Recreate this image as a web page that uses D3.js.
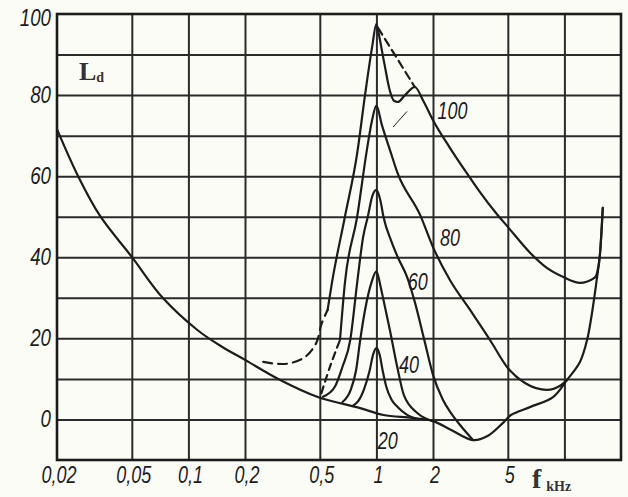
<!DOCTYPE html>
<html>
<head>
<meta charset="utf-8">
<script src="https://cdn.jsdelivr.net/npm/d3@7"></script>
<style>
  html, body { margin: 0; padding: 0; background: #fcfcf7; }
  svg { display: block; }
</style>
</head>
<body>
<svg id="chart" width="628" height="497"></svg>
<script>
// ---------- DATA (frequency in kHz, level in dB) ----------
const xGrid = [0.05, 0.1, 0.2, 0.5, 1, 2, 5, 10];
const xTicks = [0.02, 0.05, 0.1, 0.2, 0.5, 1, 2, 5];
const xTickLabels = ["0,02", "0,05", "0,1", "0,2", "0,5", "1", "2", "5"];
const yGrid = [0, 10, 20, 30, 40, 50, 60, 70, 80, 90];
const yTicks = [0, 20, 40, 60, 80, 100];
const yTickLabels = ["0", "20", "40", "60", "80", "100"];

// threshold in quiet
const quiet = [[0.02,71.6],[0.0259,60],[0.0339,50.2],[0.05,40.1],[0.073,30],[0.112,22],[0.15,18],[0.2,14.7],[0.306,9.8],[0.484,5.6],[0.82,2.8],[1.09,1.1],[1.55,0.4],[2.0,-0.4],[2.5,-2.6],[3.27,-5.1],[3.9,-4.1],[4.7,-0.9],[5.2,1.1],[6.6,3.1],[8.7,5.5],[10.3,9.7],[12.1,14.2],[13.2,19.6],[14.1,27],[14.9,34.9],[15.4,40],[16.0,52.2]];

// masking curves (noise level 100, 80, 60, 40, 20 dB)
const curve100Low = [[0.25,14.2],[0.30,13.7],[0.35,13.9],[0.42,15.5],[0.48,19],[0.51,23.5],[0.55,27]];
const curve100 = [[0.55,27],[0.58,33.7],[0.68,50],[0.79,65.6],[0.87,80],[0.95,92],[1.0,97.6],[1.03,95],[1.1,88],[1.18,81],[1.24,78.6],[1.3,78.3],[1.42,80],[1.6,82],[1.78,78.5],[2.0,73.8],[2.46,67],[3.0,61],[3.5,56.5],[4.4,50.5],[5.0,47.5],[6.6,41],[8.0,37.5],[10.0,35],[12.1,33.7],[14.5,35],[15.4,40],[16.0,52.2]];
const curve100Env = [[1.02,96.6],[1.6,82]];
const curve80Low = [[0.51,6.5],[0.57,13.4],[0.64,19.6]];
const curve80 = [[0.64,19.6],[0.68,33.7],[0.79,50],[0.89,66.5],[0.95,74],[1.0,77.4],[1.07,72.6],[1.18,66.5],[1.29,61],[1.71,50.4],[2.0,42.5],[2.46,34.4],[3.15,27],[4.02,19.6],[5.0,12.7],[6.17,9.0],[8.08,7.3],[9.48,8.3],[10.3,9.7]];
const curve60 = [[0.52,5.6],[0.6,8],[0.66,13],[0.726,19.6],[0.79,33.7],[0.85,45],[0.9,50],[0.95,55],[1.0,56.6],[1.05,54],[1.09,50],[1.2,44],[1.3,40],[1.46,35],[1.6,29],[1.8,19.5],[2.0,11],[2.25,5],[2.5,1.5],[2.8,-1.5],[3.27,-5.1]];
const curve40 = [[0.66,4.3],[0.73,7.3],[0.78,12.2],[0.82,19.6],[0.87,27],[0.94,33.7],[1.0,36.5],[1.05,33],[1.09,29.5],[1.18,22],[1.29,13],[1.4,6],[1.65,1.6],[2.0,-0.4]];
const curve20 = [[0.75,3.4],[0.8,4.5],[0.86,7.5],[0.92,12],[0.96,16],[1.0,17.6],[1.04,16],[1.08,12],[1.13,8],[1.2,5],[1.3,3],[1.45,1.2],[1.6,0.3]];
const pointer = [[1.23,72.2],[1.45,75.9]];

const curveLabels = ["100", "80", "60", "40", "20"];
const curveLabelAnchors = [[2.54,76.1],[2.46,44.8],[1.66,33.9],[1.49,13.4],[1.15,-5.3]];

// ---------- DRAWING ----------
const svg = d3.select("#chart");
const x = d3.scaleLog().domain([0.02, 20]).range([57, 621]);
const y = d3.scaleLinear().domain([-10, 100]).range([460, 14]);

const ink = "#1c1c1c";

// grid via axes
const gx = svg.append("g").attr("transform", `translate(0,${y(-10)})`)
  .call(d3.axisBottom(x).tickValues(xGrid).tickSize(-(y(-10) - y(100))).tickFormat(""));
const gy = svg.append("g").attr("transform", `translate(${x(0.02)},0)`)
  .call(d3.axisLeft(y).tickValues(yGrid).tickSize(-(x(20) - x(0.02))).tickFormat(""));
[gx, gy].forEach(g => {
  g.select(".domain").remove();
  g.selectAll(".tick line").attr("stroke", "#2a2a2a").attr("stroke-width", 2);
});

// frame
svg.append("rect")
  .attr("x", x(0.02)).attr("y", y(100))
  .attr("width", x(20) - x(0.02)).attr("height", y(-10) - y(100))
  .attr("fill", "none").attr("stroke", ink).attr("stroke-width", 2.6);

// tick labels
const labelFont = "'Liberation Sans', Arial, sans-serif";
xTicks.forEach((v, i) => {
  svg.append("text")
    .attr("transform", `translate(${x(v) + 2},${483}) scale(0.75,1)`)
    .attr("text-anchor", "middle")
    .attr("font-family", labelFont).attr("font-style", "italic")
    .attr("font-size", 24).attr("fill", ink)
    .text(xTickLabels[i]);
});
yTicks.forEach((v, i) => {
  const yy = v === 100 ? y(v) + 12 : y(v) + 8;
  svg.append("text")
    .attr("transform", `translate(${51},${yy}) scale(0.78,1)`)
    .attr("text-anchor", "end")
    .attr("font-family", labelFont).attr("font-style", "italic")
    .attr("font-size", 24).attr("fill", ink)
    .text(yTickLabels[i]);
});

// curves
const lineMono = d3.line().x(d => x(d[0])).y(d => y(d[1])).curve(d3.curveMonotoneX);
const lineSmooth = d3.line().x(d => x(d[0])).y(d => y(d[1])).curve(d3.curveCatmullRom.alpha(0.5));
function draw(data, gen, dash, w) {
  svg.append("path").datum(data)
    .attr("d", gen)
    .attr("fill", "none").attr("stroke", ink)
    .attr("stroke-width", w || 2.2)
    .attr("stroke-linejoin", "round").attr("stroke-linecap", "round")
    .attr("stroke-dasharray", dash || null);
}
draw(quiet, lineSmooth);
draw(curve100Low, lineSmooth, "9,6");
draw(curve100, lineMono);
draw(curve100Env, lineMono, "8,5");
draw(curve80Low, lineSmooth, "7,5");
draw(curve80, lineMono);
draw(curve60, lineMono);
draw(curve40, lineMono);
draw(curve20, lineMono);
draw(pointer, lineMono, null, 1);

// curve labels
curveLabels.forEach((t, i) => {
  const a = curveLabelAnchors[i];
  svg.append("text")
    .attr("transform", `translate(${x(a[0])},${y(a[1]) + 8}) scale(0.75,1)`)
    .attr("text-anchor", "middle")
    .attr("font-family", labelFont).attr("font-style", "italic")
    .attr("font-size", 24).attr("fill", ink)
    .text(t);
});

// axis titles
const serif = "'Liberation Serif', 'DejaVu Serif', serif";
const ld = svg.append("text").attr("x", 79).attr("y", 80)
  .attr("font-family", serif).attr("font-weight", "bold").attr("fill", "#333");
ld.append("tspan").attr("font-size", 26).text("L");
ld.append("tspan").attr("font-size", 14).attr("dy", 2).text("d");

const fk = svg.append("text").attr("x", 532).attr("y", 488)
  .attr("font-family", serif).attr("font-weight", "bold").attr("fill", "#333");
fk.append("tspan").attr("font-size", 28).text("f");
fk.append("tspan").attr("font-size", 14).attr("dx", 5).attr("dy", 3).text("kHz");
</script>
</body>
</html>
